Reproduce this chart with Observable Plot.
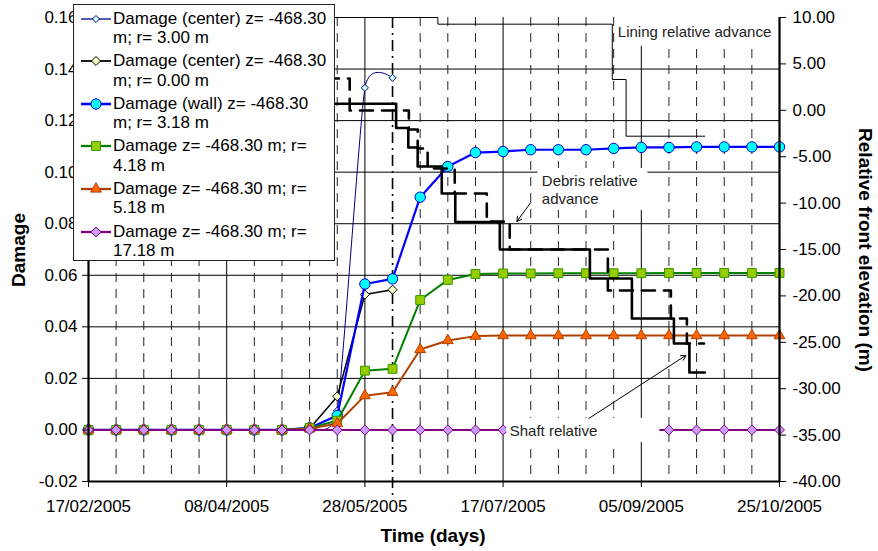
<!DOCTYPE html>
<html><head><meta charset="utf-8">
<script src="https://cdn.jsdelivr.net/npm/d3@7"></script>
<script src="https://cdn.jsdelivr.net/npm/@observablehq/plot@0.6"></script>
<style>
body{margin:0;background:#fff;font-family:"Liberation Sans",Arial,sans-serif;}
#wrap{position:relative;width:878px;height:551px;overflow:hidden;}
#legend{position:absolute;left:73px;top:4px;width:262px;height:257px;background:#fff;border:1px solid #222;box-sizing:border-box;}
.entry{position:absolute;left:0;width:260px;height:40px;}
.entry svg{position:absolute;left:6px;top:2px;}
.entry div{position:absolute;left:39px;top:0;font-size:17px;line-height:19.5px;color:#000;white-space:nowrap;}
</style></head>
<body><div id="wrap"></div>
<script>
// ---- tick labels / categories ----
const xTickLabels = ["17/02/2005","08/04/2005","28/05/2005","17/07/2005","05/09/2005","25/10/2005"];
const leftTicks = [-0.02,0.00,0.02,0.04,0.06,0.08,0.10,0.12,0.14,0.16];
const leftGrid = [0.00,0.02,0.04,0.06,0.08,0.10,0.12,0.14];
const rightTicks = [10,5,0,-5,-10,-15,-20,-25,-30,-35,-40];
const majorGridDays = [50,100,150,200];
const minorGridDays = [10,20,30,40,60,70,80,90,120,130,140,160,170,180,190,210,220,230,240];
const markerLineDay = [110];

// ---- damage series (days since 17/02/2005) ----
const damageDays = [0,10,20,30,40,50,60,70,80,90,100,110,120,130,140,150,160,170,180,190,200,210,220,230,240,250];
const centerR300 = [0,0,0,0,0,0,0,0,0.0006,0.0075,0.1327,0.1366];
const centerR000 = [0,0,0,0,0,0,0,0,0.0006,0.0130,0.0525,0.0544];
const wallR318  = [0,0,0,0,0,0,0,0,0.0008,0.0056,0.0566,0.0586,0.0903,0.1022,0.1076,0.1080,0.1087,0.1087,0.1087,0.1092,0.1096,0.1096,0.1098,0.1098,0.1098,0.1098];
const r418 = [0,0,0,0,0,0,0,0,0.0008,0.0036,0.0230,0.0237,0.0504,0.0582,0.0605,0.0607,0.0607,0.0608,0.0608,0.0608,0.0608,0.0609,0.0609,0.0609,0.0609,0.0609];
const r518 = [0,0,0,0,0,0,0,0,0.0005,0.0025,0.0133,0.0146,0.0312,0.0347,0.0364,0.0366,0.0366,0.0366,0.0366,0.0366,0.0366,0.0366,0.0366,0.0366,0.0366,0.0366];
const r1718 = [0,0,0,0,0,0,0,0,0,0,0,0,0,0,0,0,0,0,0,0,0,0,0,0,0,0];

// ---- relative front elevation (m), step series ----
const liningDays = [60,126.4,189.5,194.5,223];
const liningVals = [10,9.28,3.32,-2.79,-2.79];
const debrisDays = [70,111.3,115.7,119.1,127.8,132.7,148.8,181.4,196.6,211.8,217.4,223];
const debrisVals = [0.70,-1.91,-4.01,-6.06,-8.97,-12.05,-15.00,-18.13,-22.44,-25.13,-28.25,-28.25];
const shaftDays = [70,94.5,115.9,119.1,122.7,132.5,144.1,152.4,187.9,210.7,216.5,222.7];
const shaftVals = [3.43,-0.02,-2.07,-4.12,-6.27,-8.97,-12.00,-15.00,-19.42,-22.44,-25.13,-25.13];

// ---- annotations (day, right-axis value) ----
const labelTexts = ["Lining relative advance","Debris relative\nadvance","Shaft relative"];
const labelDays = [191.5,164,152.4];
const labelVals = [8.49,-8.53,-34.5];
const boxDays1 = [190.8,162.6,151.3], boxDays2 = [248.7,202.4,206.7];
const boxVals1 = [10,-6.27,-33.2], boxVals2 = [6.9,-10.8,-35.8];
const arrowFromDays = [160.0,181.0], arrowFromVals = [-9.94,-33.21];
const arrowToDays = [155.0,216.1], arrowToVals = [-11.98,-26.42];

// ---- helpers ----
const parse = d3.utcParse("%d/%m/%Y");
const start = parse(xTickLabels[0]);
const end = parse(xTickLabels[xTickLabels.length-1]);
const toDate = d => new Date(start.getTime() + d*864e5);
const toLeft = v => -0.02 + (v + 40) * 0.0036;
const fromLeft = y => Math.round(((y + 0.02)/0.0036 - 40)*100)/100;
const rowsD = (vals) => vals.map((v,i) => ({x: toDate(damageDays[i]), y: v}));
const rowsR = (days, vals) => vals.map((v,i) => ({x: toDate(days[i]), y: toLeft(v)}));

const series = [
  {name:"Damage (center) z= -468.30\nm; r= 3.00 m", vals:centerR300, line:"#000080", lw:1, fill:"#CCFFFF", stroke:"#000080", sym:"diamond2", r:3.2, curve:"cardinal", tension:0.5},
  {name:"Damage (center) z= -468.30\nm; r= 0.00 m", vals:centerR000, line:"#000000", lw:1.5, fill:"#FFFFCC", stroke:"#000000", sym:"diamond2", r:4.1, curve:"linear"},
  {name:"Damage (wall) z= -468.30\nm; r= 3.18 m", vals:wallR318, line:"#0000FF", lw:2.2, fill:"#00FFFF", stroke:"#0000CC", sym:"circle", r:5.2, curve:"linear"},
  {name:"Damage z= -468.30 m; r=\n4.18 m", vals:r418, line:"#008000", lw:2, fill:"#99CC00", stroke:"#339900", sym:"square", r:5.0, curve:"linear"},
  {name:"Damage z= -468.30 m; r=\n5.18 m", vals:r518, line:"#B04000", lw:2, fill:"#FF6600", stroke:"#B04000", sym:"triangle", r:4.0, curve:"linear"},
  {name:"Damage z= -468.30 m; r=\n17.18 m", vals:r1718, line:"#800080", lw:2, fill:"#CC99FF", stroke:"#800080", sym:"diamond2", r:4.5, curve:"linear"}
];

const damageMarks = [];
for (const s of series) {
  const data = rowsD(s.vals);
  const lineOpts = {x:"x", y:"y", stroke:s.line, strokeWidth:s.lw, curve:s.curve};
  if (s.tension !== undefined) lineOpts.tension = s.tension;
  damageMarks.push(Plot.line(data, lineOpts));
  damageMarks.push(Plot.dot(data, {x:"x", y:"y", symbol:s.sym, r:s.r, fill:s.fill, stroke:s.stroke, strokeWidth:1}));
}

const boxes = boxDays1.map((d,i) => ({x1:toDate(d), x2:toDate(boxDays2[i]), y1:toLeft(boxVals1[i]), y2:toLeft(boxVals2[i])}));
const labels = labelTexts.map((t,i) => ({x:toDate(labelDays[i]), y:toLeft(labelVals[i]), t}));
const arrows = arrowFromDays.map((d,i) => ({x1:toDate(d), y1:toLeft(arrowFromVals[i]), x2:toDate(arrowToDays[i]), y2:toLeft(arrowToVals[i])}));

const chart = Plot.plot({
  width: 878, height: 551,
  marginLeft: 88, marginRight: 99, marginTop: 17, marginBottom: 70,
  style: {fontFamily:"'Liberation Sans', Arial, sans-serif", fontSize:"17px", color:"#000", background:"#fff", overflow:"visible"},
  x: {type:"utc", domain:[start, end]},
  y: {domain:[-0.02, 0.16]},
  marks: [
    Plot.ruleY(leftGrid, {stroke:"#000", strokeWidth:1}),
    Plot.ruleX(majorGridDays.map(toDate), {stroke:"#000", strokeWidth:1}),
    Plot.ruleX(minorGridDays.map(toDate), {stroke:"#222", strokeWidth:1, strokeDasharray:"9,7"}),
    Plot.ruleX(markerLineDay.map(toDate), {y1:0.16, y2:-0.0272, stroke:"#000", strokeWidth:1.6, strokeDasharray:"11,5,2,5"}),
    ...damageMarks,
    Plot.line(rowsR(liningDays, liningVals), {x:"x", y:"y", stroke:"#000", strokeWidth:1, curve:"step-after"}),
    Plot.line(rowsR(debrisDays, debrisVals), {x:"x", y:"y", stroke:"#000", strokeWidth:2.6, curve:"step-after"}),
    Plot.line(rowsR(shaftDays, shaftVals), {x:"x", y:"y", stroke:"#000", strokeWidth:2.6, strokeDasharray:"13,9", curve:"step-after"}),
    Plot.rect(boxes, {x1:"x1", x2:"x2", y1:"y1", y2:"y2", fill:"#fff"}),
    Plot.text(labels, {x:"x", y:"y", text:"t", textAnchor:"start", lineAnchor:"middle", lineHeight:1.2, fontSize:15, fill:"#222"}),
    Plot.arrow(arrows, {x1:"x1", y1:"y1", x2:"x2", y2:"y2", stroke:"#000", strokeWidth:1, headLength:8}),
    Plot.ruleY([-0.02], {stroke:"#000", strokeWidth:2.2}),
    Plot.ruleX([start, end], {stroke:"#000", strokeWidth:2.2}),
    Plot.axisX(xTickLabels.map(parse), {tickFormat:d3.utcFormat("%d/%m/%Y"), tickSize:6, tickPadding:12, label:null, fontSize:17}),
    Plot.axisY(leftTicks, {anchor:"left", tickFormat:d => d.toFixed(2), tickSize:6, tickPadding:5, label:null, fontSize:17}),
    Plot.axisY(rightTicks.map(toLeft), {anchor:"right", tickFormat:d => fromLeft(d).toFixed(2), tickSize:6, tickPadding:7, label:null, fontSize:17})
  ]
});

const svg = d3.select(chart);
const title = (txt, x, y, rot) => svg.append("text").attr("transform", `translate(${x},${y}) rotate(${rot})`)
  .attr("text-anchor","middle").attr("dominant-baseline","central")
  .attr("font-weight","bold").attr("font-size","19px").attr("fill","#000").text(txt);
title("Damage", 18, 250, -90);
title("Time (days)", 433, 535, 0);
title("Relative front elevation (m)", 865, 250, 90);

const wrap = document.getElementById("wrap");
wrap.appendChild(chart);

// legend
const legend = document.createElement("div");
legend.id = "legend";
wrap.appendChild(legend);
series.forEach((s, i) => {
  const e = document.createElement("div");
  e.className = "entry";
  e.style.top = (3.5 + i*42.6) + "px";
  legend.appendChild(e);
  const ls = d3.select(e).append("svg").attr("width", 34).attr("height", 16);
  ls.append("line").attr("x1",1).attr("x2",31).attr("y1",8).attr("y2",8).attr("stroke", s.line).attr("stroke-width", s.lw + 0.3);
  const symMap = {circle:d3.symbolCircle, square:d3.symbolSquare, triangle:d3.symbolTriangle, diamond2:d3.symbolDiamond2};
  ls.append("path").attr("transform","translate(16,8)").attr("d", d3.symbol(symMap[s.sym], Math.PI*s.r*s.r)())
    .attr("fill", s.fill).attr("stroke", s.stroke).attr("stroke-width", 1);
  const parts = s.name.split("\n");
  const t = document.createElement("div");
  t.appendChild(document.createTextNode(parts[0]));
  t.appendChild(document.createElement("br"));
  t.appendChild(document.createTextNode(parts[1]));
  e.appendChild(t);
});
</script>
</body></html>
